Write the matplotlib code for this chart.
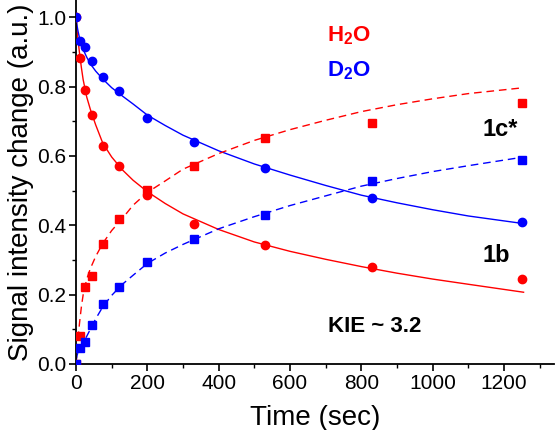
import matplotlib
matplotlib.use("Agg")
import matplotlib.pyplot as plt
from matplotlib.ticker import MultipleLocator

# measured points (sec)
t_pts = [0, 10, 25, 45, 75, 120, 200, 330, 530, 830, 1250]
h2o_1b = [1.0, 0.884, 0.79, 0.718, 0.630, 0.571, 0.488, 0.405, 0.343, 0.280, 0.245]
d2o_1b = [1.0, 0.932, 0.913, 0.873, 0.829, 0.788, 0.710, 0.640, 0.566, 0.478, 0.410]
h2o_1c = [0.0, 0.081, 0.223, 0.254, 0.345, 0.417, 0.501, 0.571, 0.653, 0.695, 0.753]
d2o_1c = [0.0, 0.047, 0.063, 0.112, 0.173, 0.223, 0.293, 0.360, 0.431, 0.529, 0.588]

# fit curves
t_fit = [0, 3, 6, 10, 15, 20, 30, 40, 55, 75, 100, 130, 160, 200, 250, 300,
         400, 500, 600, 700, 800, 900, 1000, 1100, 1255]
h2o_1b_fit = [1.0, 0.96, 0.93, 0.895, 0.855, 0.82, 0.77, 0.735, 0.69, 0.637, 0.597,
              0.56, 0.53, 0.497, 0.463, 0.433, 0.388, 0.352, 0.325, 0.302, 0.281,
              0.262, 0.245, 0.23, 0.207]
d2o_1b_fit = [1.0, 0.975, 0.958, 0.94, 0.922, 0.907, 0.885, 0.866, 0.845, 0.822,
              0.797, 0.773, 0.75, 0.718, 0.688, 0.66, 0.615, 0.577, 0.545, 0.515,
              0.487, 0.465, 0.445, 0.427, 0.405]
h2o_1c_fit = [0.0, 0.04, 0.08, 0.12, 0.165, 0.2, 0.245, 0.275, 0.31, 0.348, 0.385,
              0.42, 0.458, 0.495, 0.528, 0.562, 0.607, 0.645, 0.676, 0.703, 0.728,
              0.748, 0.765, 0.78, 0.797]
d2o_1c_fit = [0.01, 0.025, 0.035, 0.045, 0.055, 0.062, 0.08, 0.1, 0.13, 0.165, 0.198,
              0.23, 0.256, 0.29, 0.32, 0.345, 0.39, 0.425, 0.457, 0.485, 0.513,
              0.535, 0.555, 0.572, 0.597]

plt.rcParams['font.family'] = ['Liberation Sans', 'DejaVu Sans']
plt.rcParams['mathtext.fontset'] = 'custom'
plt.rcParams['mathtext.rm'] = 'Liberation Sans'
plt.rcParams['mathtext.bf'] = 'Liberation Sans:bold'

RED = '#ff0000'
BLUE = '#0000ff'


def main():
    fig = plt.figure(figsize=(5.55, 4.30), dpi=100)
    ax = fig.add_axes([0.137, 0.1535, 0.861, 0.8465])

    dash = (5.5, 3.5)
    ax.plot(t_fit, h2o_1b_fit, color=RED, lw=1.0, zorder=2)
    ax.plot(t_fit, d2o_1b_fit, color=BLUE, lw=1.0, zorder=2)
    ax.plot(t_fit, h2o_1c_fit, color=RED, lw=1.0, dashes=dash, zorder=2)
    ax.plot(t_fit, d2o_1c_fit, color=BLUE, lw=1.0, dashes=dash, zorder=2)

    ax.plot(t_pts, h2o_1b, 'o', color=RED, ms=6, zorder=3)
    ax.plot(t_pts, h2o_1c, 's', color=RED, ms=5.5, zorder=3)
    ax.plot(t_pts, d2o_1b, 'o', color=BLUE, ms=6, zorder=4)
    ax.plot(t_pts, d2o_1c, 's', color=BLUE, ms=5.5, zorder=4)

    ax.set_xlim(0, 1340)
    ax.set_ylim(0, 1.05)
    ax.xaxis.set_major_locator(MultipleLocator(200))
    ax.xaxis.set_minor_locator(MultipleLocator(100))
    ax.yaxis.set_major_locator(MultipleLocator(0.2))
    ax.yaxis.set_minor_locator(MultipleLocator(0.1))
    ax.yaxis.set_major_formatter(plt.FormatStrFormatter('%.1f'))
    ax.tick_params(which='major', direction='out', length=5, width=1.2, labelsize=15, pad=2)
    ax.tick_params(which='minor', direction='out', length=3, width=1.0)

    for side in ['top', 'right']:
        ax.spines[side].set_visible(False)
    for side in ['left', 'bottom']:
        ax.spines[side].set_linewidth(1.3)

    ax.set_xlabel('Time (sec)', fontsize=20, labelpad=9)
    ax.set_ylabel('Signal intensity change (a.u.)', fontsize=20, labelpad=2)

    # annotations (pixel positions from the figure's top-left)
    def label(x, y, s, color='black', size=16):
        fig.text(x / 555, 1 - y / 430, s, color=color, fontsize=size,
                 fontweight='bold', ha='left', va='baseline')

    label(327, 41, r'H$_\mathbf{2}$O', RED)
    label(327, 76, r'D$_\mathbf{2}$O', BLUE)
    label(482, 136, '1c*', size=17)
    label(482, 262, '1b', size=17)
    label(328, 332, 'KIE ~ 3.2')

    fig.savefig('out.png', dpi=100)


if __name__ == '__main__':
    main()
